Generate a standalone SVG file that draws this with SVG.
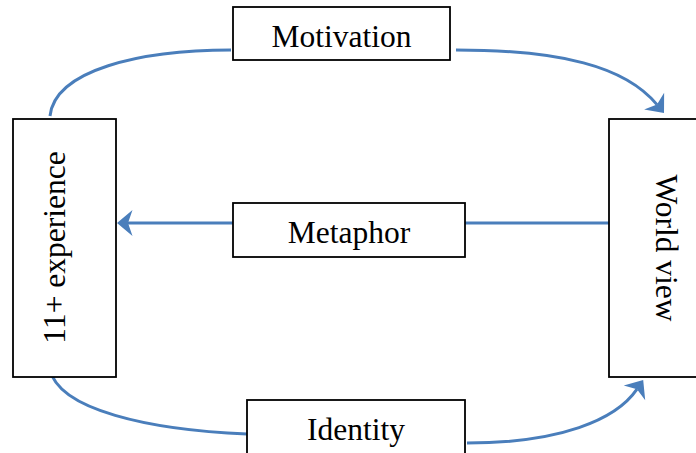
<svg xmlns="http://www.w3.org/2000/svg" width="696" height="453" viewBox="0 0 696 453">
<style>
.box{fill:#fff;stroke:#000;stroke-width:1.8}
.lbl{font-family:"Liberation Serif","Times New Roman",serif;font-size:31.5px;fill:#000;text-anchor:middle}
.con{fill:none;stroke:#4a7ebb;stroke-width:3}
</style>
<defs>
<marker id="arr" markerUnits="userSpaceOnUse" markerWidth="20" markerHeight="30" viewBox="0 -15 20 30" refX="4.5" refY="0" orient="auto" overflow="visible">
<path d="M0,-13 L15.5,0 L0,13 L4.5,0 Z" fill="#4a7ebb"/>
</marker>
</defs>
<rect width="696" height="453" fill="#fff"/>
<g id="connectors">
<path class="con" d="M50,116 C55,70 140,50 231,50"/>
<path class="con" d="M456,50 C560,50 625,66 657,104.6" marker-end="url(#arr)"/>
<path class="con" d="M609,223 L128,223" marker-end="url(#arr)"/>
<path class="con" d="M50,369 C58,410 150,430 247,434"/>
<path class="con" d="M467,443 C560,443 616,420 637,389.2" marker-end="url(#arr)"/>
</g>
<g id="experience">
<rect class="box" x="13" y="119" width="103" height="258"/>
<text class="lbl" transform="translate(65,247.5) rotate(-90)">11+ experience</text>
</g>
<g id="worldview">
<rect class="box" x="609" y="119" width="103" height="258"/>
<text class="lbl" transform="translate(656,248) rotate(90)">World view</text>
</g>
<g id="motivation">
<rect class="box" x="233" y="7" width="217" height="53"/>
<text class="lbl" x="341.5" y="47">Motivation</text>
</g>
<g id="metaphor">
<rect class="box" x="233" y="203" width="232" height="54"/>
<text class="lbl" x="349" y="243">Metaphor</text>
</g>
<g id="identity">
<rect class="box" x="247" y="400" width="218" height="60"/>
<text class="lbl" x="356" y="440">Identity</text>
</g>
</svg>
